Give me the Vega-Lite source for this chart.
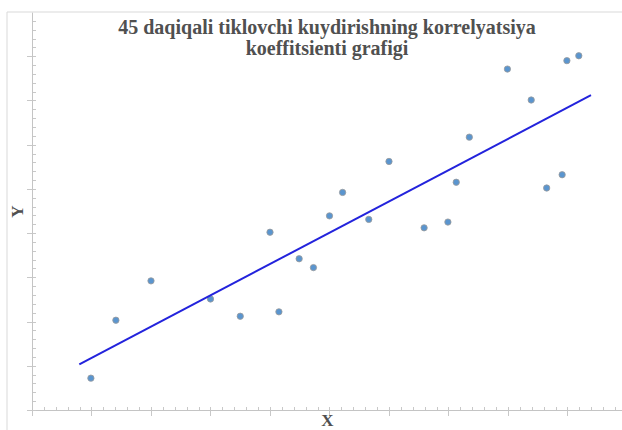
{
  "$schema": "https://vega.github.io/schema/vega-lite/v6.json",
  "width": 590,
  "height": 398,
  "autosize": "none",
  "padding": {"left": 32, "top": 12, "right": 0, "bottom": 20},
  "background": "white",
  "config": {"view": {"stroke": null}},
  "title": {
    "text": ["45 daqiqali tiklovchi kuydirishning korrelyatsiya", "koeffitsienti grafigi"],
    "font": "Liberation Serif",
    "fontSize": 20,
    "fontWeight": "bold",
    "color": "#505050",
    "anchor": "middle",
    "offset": -47,
    "lineHeight": 21
  },
  "datasets": {
    "points": [
      {"x": 0.99, "y": 0.72}, {"x": 1.41, "y": 2.03}, {"x": 2.0, "y": 2.92}, {"x": 3.0, "y": 2.51},
      {"x": 3.5, "y": 2.12}, {"x": 4.0, "y": 4.02}, {"x": 4.15, "y": 2.22}, {"x": 4.49, "y": 3.42},
      {"x": 4.73, "y": 3.22}, {"x": 5.0, "y": 4.39}, {"x": 5.22, "y": 4.92}, {"x": 5.66, "y": 4.31},
      {"x": 6.0, "y": 5.62}, {"x": 6.59, "y": 4.12}, {"x": 6.99, "y": 4.25}, {"x": 7.13, "y": 5.15},
      {"x": 7.35, "y": 6.17}, {"x": 7.99, "y": 7.71}, {"x": 8.39, "y": 7.01}, {"x": 8.65, "y": 5.02},
      {"x": 8.91, "y": 5.32}, {"x": 8.99, "y": 7.9}, {"x": 9.19, "y": 8.01}
    ],
    "fit": [{"x": 0.795, "y": 1.033}, {"x": 9.395, "y": 7.119}],
    "frame": [
      {"x": -0.42, "x2": -0.42, "y": 9, "y2": -0.46},
      {"x": -0.42, "x2": 9.92, "y": 9, "y2": 9}
    ]
  },
  "layer": [
    {
      "data": {"name": "frame"},
      "mark": {"type": "rule", "color": "#d9d9d9", "strokeWidth": 1},
      "encoding": {
        "x": {"field": "x", "type": "quantitative", "scale": {"domain": [0, 9.916], "nice": false, "zero": false}, "axis": null},
        "x2": {"field": "x2"},
        "y": {"field": "y", "type": "quantitative", "scale": {"domain": [0, 9], "nice": false, "zero": false}, "axis": null},
        "y2": {"field": "y2"}
      }
    },
    {
      "data": {"name": "points"},
      "mark": {"type": "point", "shape": "circle", "filled": true, "size": 40, "fill": "#5a95cf", "stroke": "#9a9a9a", "strokeWidth": 0.8, "opacity": 1},
      "encoding": {
        "x": {
          "field": "x", "type": "quantitative",
          "scale": {"domain": [0, 9.916], "nice": false, "zero": false},
          "axis": {
            "orient": "bottom", "title": null, "labels": false, "grid": false,
            "domain": true, "domainColor": "#c4c4c4", "domainWidth": 1,
            "ticks": true, "tickColor": "#c8c8c8", "tickSize": -3.5, "tickWidth": 1,
            "values": [0,0.2,0.4,0.6,0.8,1,1.2,1.4,1.6,1.8,2,2.2,2.4,2.6,2.8,3,3.2,3.4,3.6,3.8,4,4.2,4.4,4.6,4.8,5,5.2,5.4,5.6,5.8,6,6.2,6.4,6.6,6.8,7,7.2,7.4,7.6,7.8,8,8.2,8.4,8.6,8.8,9,9.2,9.4,9.6,9.8]
          }
        },
        "y": {
          "field": "y", "type": "quantitative",
          "scale": {"domain": [0, 9], "nice": false, "zero": false},
          "axis": {
            "orient": "left", "title": null, "labels": false, "grid": false,
            "domain": true, "domainColor": "#c4c4c4", "domainWidth": 1,
            "ticks": true, "tickColor": "#c8c8c8", "tickSize": -3.5, "tickWidth": 1,
            "values": [0,0.2,0.4,0.6,0.8,1,1.2,1.4,1.6,1.8,2,2.2,2.4,2.6,2.8,3,3.2,3.4,3.6,3.8,4,4.2,4.4,4.6,4.8,5,5.2,5.4,5.6,5.8,6,6.2,6.4,6.6,6.8,7,7.2,7.4,7.6,7.8,8,8.2,8.4,8.6,8.8]
          }
        }
      }
    },
    {
      "data": {"name": "fit"},
      "mark": {"type": "line", "color": "#2323dc", "strokeWidth": 2},
      "encoding": {
        "x": {
          "field": "x", "type": "quantitative",
          "scale": {"domain": [0, 9.916], "nice": false, "zero": false},
          "axis": {
            "orient": "bottom", "title": "X", "labels": false, "grid": false, "domain": false,
            "ticks": true, "tickColor": "#c8c8c8", "tickSize": 5.5, "tickWidth": 1,
            "values": [0,1,2,3,4,5,6,7,8,9],
            "titleFont": "Liberation Serif", "titleFontSize": 17, "titleFontWeight": "bold",
            "titleColor": "#505050", "titlePadding": -4
          }
        },
        "y": {
          "field": "y", "type": "quantitative",
          "scale": {"domain": [0, 9], "nice": false, "zero": false},
          "axis": {
            "orient": "left", "title": "Y", "labels": false, "grid": false, "domain": false,
            "ticks": true, "tickColor": "#c8c8c8", "tickSize": 5.5, "tickWidth": 1,
            "values": [0,1,2,3,4,5,6,7,8],
            "titleFont": "Liberation Serif", "titleFontSize": 17, "titleFontWeight": "bold",
            "titleColor": "#505050", "titlePadding": 0
          }
        }
      }
    }
  ],
  "resolve": {"axis": {"x": "independent", "y": "independent"}}
}
